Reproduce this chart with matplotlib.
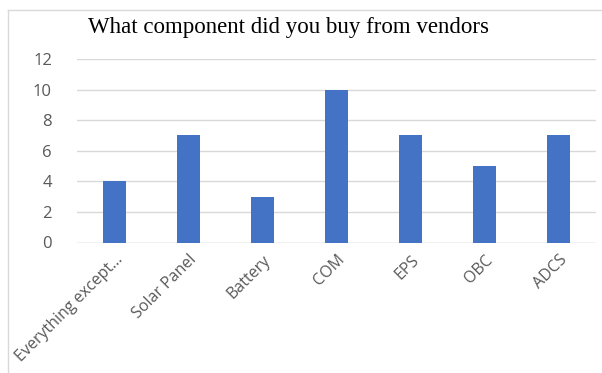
import matplotlib.pyplot as plt
import matplotlib.patches as patches
import matplotlib.transforms as mtransforms

categories = ['Everything except...', 'Solar Panel', 'Battery', 'COM', 'EPS', 'OBC', 'ADCS']
counts = [4, 7, 3, 10, 7, 5, 7]
y_ticks = [0, 2, 4, 6, 8, 10, 12]
title = 'What component did you buy from vendors'

W, H = 602, 373
fig = plt.figure(figsize=(W / 100, H / 100), dpi=100)

# chart border (only left + top visible in the crop)
border_col = '#d9d9d9'
fig.add_artist(plt.Line2D([8 / W, 8 / W], [0, 1 - 10 / H], color=border_col, lw=1.0))
fig.add_artist(plt.Line2D([8 / W, 1], [1 - 10 / H, 1 - 10 / H], color=border_col, lw=1.0))
# title box hides part of the top border
fig.add_artist(patches.Rectangle((65 / W, 1 - 16 / H), (470 - 65) / W, 12 / H,
                                 facecolor='white', edgecolor='none', transform=fig.transFigure))

ax = fig.add_axes([77 / W, 1 - 242.5 / H, (596 - 77) / W, (242.5 - 59) / H])
x = range(len(categories))
ax.bar(x, counts, width=0.31, color='#4472c4', zorder=3)
ax.set_xlim(-0.5, len(categories) - 0.5)
ax.set_ylim(0, 12)
ax.set_yticks(y_ticks)
ax.yaxis.grid(True, color='#d9d9d9', lw=1.0, zorder=0)
for s in ax.spines.values():
    s.set_visible(False)
ax.axhline(0, color='#d9d9d9', lw=1.0, zorder=2)
ax.tick_params(length=0, labelcolor='#595959', labelsize=12)
ax.tick_params(axis='y', pad=18)
ax.set_yticklabels([str(v) for v in y_ticks], ha='right', fontfamily='Open Sans')
ax.set_xticks(list(x))
ax.set_xticklabels([])

# rotated category labels, Excel style (end of text sits just right of the bar)
lbl_trans = ax.get_xaxis_transform() + mtransforms.ScaledTranslation(
    6 / 100, -15 / 100, fig.dpi_scale_trans)
for i, name in zip(x, categories):
    ax.text(i, 0, name, transform=lbl_trans, rotation=45, rotation_mode='anchor',
            ha='right', va='center', fontsize=11.5, color='#595959',
            fontfamily='Open Sans')

fig.text(289 / W, 1 - 27 / H, title, ha='center', va='center',
         fontfamily='Liberation Serif', fontsize=16.5, color='black')

fig.savefig('out.png', dpi=100)
